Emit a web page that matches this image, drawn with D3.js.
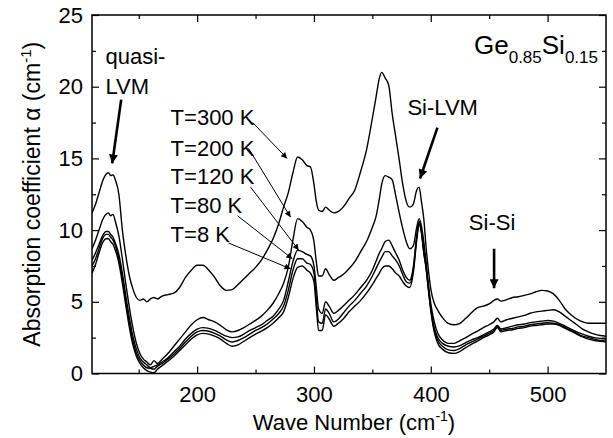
<!DOCTYPE html>
<html>
<head>
<meta charset="utf-8">
<script src="https://cdn.jsdelivr.net/npm/d3@7"></script>
<style>
  body { margin: 0; background: #fff; }
  text { font-family: "Liberation Sans", Arial, Helvetica, sans-serif; fill: #000; }
</style>
</head>
<body>
<svg id="chart" width="613" height="438"></svg>
<script>
// Wave numbers (cm^-1) shared by all spectra
const waveNumbers = [
  110, 113, 116, 119, 122, 124, 126, 128, 130, 133, 136, 139, 142, 145, 148, 151, 154, 157, 160, 163,
  166, 170, 175, 180, 185, 190, 195, 200, 205, 210, 215, 220, 225, 230, 235, 240, 245, 250, 255, 260,
  265, 270, 274, 278, 282, 286, 290, 294, 297, 300, 302, 304, 307, 310, 313, 317, 321, 325, 330, 335,
  340, 345, 350, 353, 356, 358, 361, 364, 367, 370, 373, 376, 379, 382, 385, 388, 390, 392, 394, 396,
  398, 400, 403, 406, 410, 415, 420, 425, 430, 435, 440, 445, 450, 454, 457, 460, 465, 470, 475, 480,
  485, 490, 495, 500, 505, 510, 515, 520, 525, 530, 535, 540, 545, 550
];

// Absorption coefficient (cm^-1) at each temperature
const alphaT300 = [
  11.2, 11.8, 12.6, 13.4, 13.9, 14.0, 13.8, 13.85, 13.5, 12.5, 10.0, 8.2, 6.8, 5.9, 5.3, 5.1, 5.2, 5.0, 5.2, 5.3,
  5.2, 5.4, 5.5, 5.6, 6.0, 6.7, 7.2, 7.55, 7.55, 7.2, 6.7, 6.1, 5.8, 5.85, 6.2, 6.6, 7.0, 7.4, 7.9, 8.6,
  9.4, 10.5, 11.6, 12.6, 14.0, 15.1, 14.9, 14.5, 14.4, 13.2, 12.0, 11.4, 11.3, 11.6, 11.4, 11.2, 11.3, 11.6, 12.2, 12.8,
  14.1, 15.6, 17.8, 19.2, 20.6, 21.0, 20.6, 20.1, 18.1, 16.5, 14.9, 13.2, 12.0, 11.6, 11.8, 12.8, 13.0, 12.0, 10.8, 8.8,
  7.2, 5.9, 4.9, 4.4, 3.9, 3.5, 3.4, 3.5, 3.85, 4.25, 4.6, 4.7, 4.85, 5.1, 5.2, 5.05, 5.15, 5.3, 5.35, 5.45,
  5.55, 5.7, 5.8, 5.75, 5.55, 5.1, 4.5, 4.1, 3.8, 3.6, 3.5, 3.5, 3.5, 3.5
];
const alphaT200 = [
  8.7, 9.3, 10.0, 10.7, 11.1, 11.2, 11.0, 11.1, 10.6, 9.6, 8.0, 6.2, 4.6, 3.2, 2.1, 1.4, 1.0, 0.8, 0.6, 0.9,
  0.7, 1.0, 1.4, 1.9, 2.4, 2.9, 3.4, 3.75, 3.9, 3.75, 3.6, 3.35, 3.05, 2.9, 3.0, 3.2, 3.45, 3.7, 4.0, 4.4,
  4.9, 5.6, 6.3, 7.4, 9.3, 10.8, 10.6, 10.2, 10.0, 9.2, 7.8, 6.8, 6.8, 7.3, 6.9, 6.5, 6.7, 6.9, 7.3, 7.8,
  8.5, 9.2, 10.2, 10.9, 12.2, 13.2, 13.8, 13.7, 13.5, 12.4, 11.2, 10.1, 9.2, 8.7, 8.9, 10.2, 10.8, 10.3, 9.2, 7.8,
  6.2, 4.9, 3.6, 2.8, 2.35, 2.1, 2.1, 2.3, 2.5, 2.75, 2.95, 3.2, 3.4, 3.6, 3.85, 3.6, 3.75, 3.85, 3.95, 4.05,
  4.2, 4.3, 4.35, 4.4, 4.45, 4.3, 4.0, 3.7, 3.4, 3.1, 2.9, 2.75, 2.65, 2.6
];
const alphaT120 = [
  7.9, 8.4, 9.0, 9.6, 9.9, 9.9, 9.7, 9.5, 9.1, 8.3, 7.0, 5.4, 3.9, 2.6, 1.7, 1.1, 0.8, 0.6, 0.4, 0.5,
  0.6, 0.8, 1.1, 1.5, 1.9, 2.4, 2.8, 3.1, 3.2, 3.15, 3.0, 2.8, 2.6, 2.5, 2.55, 2.75, 3.0, 3.2, 3.4, 3.7,
  4.0, 4.5, 5.1, 6.4, 7.8, 8.6, 8.5, 8.3, 8.2, 7.5, 6.0, 4.5, 4.2, 5.0, 4.7, 4.2, 4.4, 4.7, 5.1, 5.5,
  6.0, 6.5, 7.2, 7.8, 8.4, 8.7, 9.2, 9.3, 8.9, 8.4, 7.9, 7.2, 6.7, 6.5, 7.4, 9.6, 10.6, 10.0, 8.6, 7.5,
  6.0, 4.6, 3.2, 2.5, 2.1, 1.9, 1.85, 1.95, 2.15, 2.35, 2.5, 2.7, 2.9, 3.1, 3.35, 3.1, 3.2, 3.3, 3.4, 3.45,
  3.55, 3.6, 3.65, 3.7, 3.65, 3.5, 3.3, 3.1, 2.9, 2.75, 2.6, 2.5, 2.45, 2.4
];
const alphaT80 = [
  7.5, 8.0, 8.7, 9.4, 9.7, 9.7, 9.5, 9.3, 8.9, 8.0, 6.6, 5.0, 3.5, 2.3, 1.4, 0.9, 0.6, 0.4, 0.35, 0.3,
  0.5, 0.7, 1.0, 1.35, 1.75, 2.2, 2.6, 2.9, 3.0, 2.95, 2.8, 2.6, 2.35, 2.2, 2.3, 2.5, 2.75, 3.0, 3.2, 3.45,
  3.8, 4.2, 4.7, 5.8, 7.2, 8.0, 8.0, 7.7, 7.6, 7.0, 5.2, 3.6, 3.5, 4.5, 4.2, 3.6, 3.8, 4.2, 4.7, 5.1,
  5.6, 6.1, 6.8, 7.3, 7.8, 8.1, 8.5, 8.5, 8.2, 7.9, 7.5, 6.9, 6.4, 6.3, 7.2, 9.5, 10.5, 9.9, 8.5, 7.4,
  5.9, 4.5, 3.0, 2.3, 1.9, 1.65, 1.6, 1.75, 2.0, 2.2, 2.4, 2.6, 2.8, 3.0, 3.3, 3.0, 3.1, 3.15, 3.25, 3.3,
  3.4, 3.45, 3.5, 3.55, 3.5, 3.4, 3.2, 3.0, 2.8, 2.6, 2.5, 2.4, 2.3, 2.25
];
const alphaT8 = [
  7.0, 7.6, 8.4, 9.1, 9.4, 9.4, 9.2, 9.0, 8.6, 7.7, 6.3, 4.7, 3.2, 2.0, 1.2, 0.7, 0.4, 0.2, 0.1, 0.05,
  0.3, 0.55, 0.85, 1.2, 1.6, 2.0, 2.4, 2.7, 2.8, 2.75, 2.6, 2.4, 2.1, 1.9, 2.0, 2.25, 2.5, 2.75, 2.95, 3.2,
  3.5, 3.9, 4.3, 5.3, 6.6, 7.4, 7.5, 7.2, 7.0, 6.4, 4.6, 3.0, 3.0, 4.1, 3.8, 3.3, 3.5, 3.8, 4.3, 4.7,
  5.1, 5.6, 6.2, 6.6, 7.0, 7.3, 7.5, 7.5, 7.3, 7.0, 6.8, 6.4, 6.1, 6.0, 7.0, 9.3, 10.4, 9.8, 8.4, 7.3,
  5.8, 4.4, 2.9, 2.1, 1.7, 1.45, 1.4, 1.55, 1.8, 2.05, 2.25, 2.5, 2.7, 2.9, 3.2, 2.9, 3.0, 3.05, 3.15, 3.2,
  3.3, 3.35, 3.4, 3.45, 3.45, 3.35, 3.15, 2.95, 2.75, 2.55, 2.4, 2.3, 2.25, 2.2
];

const seriesLabels = ["T=300 K", "T=200 K", "T=120 K", "T=80 K", "T=8 K"];
const seriesValues = [alphaT300, alphaT200, alphaT120, alphaT80, alphaT8];

const xTicks = [200, 300, 400, 500];
const xMinorTicks = [150, 250, 350, 450];
const yTicks = [0, 5, 10, 15, 20, 25];
const yMinorTicks = [2.5, 7.5, 12.5, 17.5, 22.5];

// Temperature label anchors and arrows, in data units (wave number, alpha)
const labelAnchors = [[177.3, 17.3], [177.3, 15.2], [177.3, 13.2], [177.3, 11.2], [177.3, 9.2]];
const labelArrowFrom = [[247.5, 17.5], [244, 15.7], [245.7, 13.0], [234.6, 11.0], [226.9, 9.1]];
const labelArrowTo = [[277, 15.0], [280, 10.9], [287, 8.6], [281.5, 8.0], [280, 7.3]];

const svg = d3.select("#chart");
const plot = { left: 92, right: 606, top: 15, bottom: 373.5 };

const x = d3.scaleLinear().domain([110, 550]).range([plot.left, plot.right]);
const y = d3.scaleLinear().domain([0, 25]).range([plot.bottom, plot.top]);

// Arrowhead markers
const defs = svg.append("defs");
defs.append("marker")
  .attr("id", "thinHead").attr("markerUnits", "userSpaceOnUse")
  .attr("viewBox", "0 0 10 10").attr("refX", 10).attr("refY", 5)
  .attr("markerWidth", 8).attr("markerHeight", 6).attr("orient", "auto")
  .append("path").attr("d", "M0,0 L10,5 L0,10 Z").attr("fill", "#000");
defs.append("marker")
  .attr("id", "boldHead").attr("markerUnits", "userSpaceOnUse")
  .attr("viewBox", "0 0 10 10").attr("refX", 10).attr("refY", 5)
  .attr("markerWidth", 13).attr("markerHeight", 9).attr("orient", "auto")
  .append("path").attr("d", "M0,0 L10,5 L0,10 Z").attr("fill", "#000");

// Spectra
const clipId = "plotClip";
defs.append("clipPath").attr("id", clipId).append("rect")
  .attr("x", plot.left).attr("y", plot.top)
  .attr("width", plot.right - plot.left).attr("height", plot.bottom - plot.top);

const line = d3.line().x((d, i) => x(waveNumbers[i])).y(d => y(d)).curve(d3.curveMonotoneX);
svg.append("g").attr("clip-path", `url(#${clipId})`)
  .selectAll("path").data(seriesValues).join("path")
  .attr("d", d => line(d))
  .attr("fill", "none").attr("stroke", "#000").attr("stroke-width", 1.4)
  .attr("stroke-linejoin", "round");

// Frame
svg.append("rect")
  .attr("x", plot.left).attr("y", plot.top)
  .attr("width", plot.right - plot.left).attr("height", plot.bottom - plot.top)
  .attr("fill", "none").attr("stroke", "#000").attr("stroke-width", 1.5);

// Axes with inward ticks on all four sides
const tickFont = 22;
function styleAxis(g) {
  g.select(".domain").remove();
  g.selectAll(".tick line").attr("stroke", "#000").attr("stroke-width", 1.2);
  g.selectAll(".tick text").attr("font-size", tickFont)
    .attr("font-family", "'Liberation Sans', Arial, sans-serif");
}
svg.append("g").attr("transform", `translate(0,${plot.bottom})`)
  .call(d3.axisBottom(x).tickValues(xTicks).tickSizeInner(-7).tickSizeOuter(0).tickPadding(13).tickFormat(d3.format("d")))
  .call(styleAxis);
svg.append("g").attr("transform", `translate(0,${plot.bottom})`)
  .call(d3.axisBottom(x).tickValues(xMinorTicks).tickSizeInner(-4).tickSizeOuter(0).tickFormat(""))
  .call(styleAxis);
svg.append("g").attr("transform", `translate(0,${plot.top})`)
  .call(d3.axisTop(x).tickValues(xTicks).tickSizeInner(-7).tickSizeOuter(0).tickFormat(""))
  .call(styleAxis);
svg.append("g").attr("transform", `translate(0,${plot.top})`)
  .call(d3.axisTop(x).tickValues(xMinorTicks).tickSizeInner(-4).tickSizeOuter(0).tickFormat(""))
  .call(styleAxis);
svg.append("g").attr("transform", `translate(${plot.left},0)`)
  .call(d3.axisLeft(y).tickValues(yTicks).tickSizeInner(-7).tickSizeOuter(0).tickPadding(9).tickFormat(d3.format("d")))
  .call(styleAxis);
svg.append("g").attr("transform", `translate(${plot.left},0)`)
  .call(d3.axisLeft(y).tickValues(yMinorTicks).tickSizeInner(-4).tickSizeOuter(0).tickFormat(""))
  .call(styleAxis);
svg.append("g").attr("transform", `translate(${plot.right},0)`)
  .call(d3.axisRight(y).tickValues(yTicks).tickSizeInner(-7).tickSizeOuter(0).tickFormat(""))
  .call(styleAxis);
svg.append("g").attr("transform", `translate(${plot.right},0)`)
  .call(d3.axisRight(y).tickValues(yMinorTicks).tickSizeInner(-4).tickSizeOuter(0).tickFormat(""))
  .call(styleAxis);

// Axis titles
const xTitle = svg.append("text")
  .attr("x", 354).attr("y", 430).attr("text-anchor", "middle").attr("font-size", 22);
xTitle.append("tspan").text("Wave Number (cm");
xTitle.append("tspan").attr("font-size", 14).attr("dy", -9).text("-1");
xTitle.append("tspan").attr("dy", 9).text(")");

const yTitle = svg.append("text")
  .attr("transform", `translate(40,${(plot.top + plot.bottom) / 2}) rotate(-90)`)
  .attr("text-anchor", "middle").attr("font-size", 23);
yTitle.append("tspan").text("Absorption coefficient α (cm");
yTitle.append("tspan").attr("font-size", 15).attr("dy", -9).text("-1");
yTitle.append("tspan").attr("dy", 9).text(")");

// Sample composition
const title = svg.append("text")
  .attr("x", 598).attr("y", y(22.3)).attr("text-anchor", "end").attr("font-size", 26);
title.append("tspan").text("Ge");
title.append("tspan").attr("font-size", 17).attr("dy", 9).text("0.85");
title.append("tspan").attr("dy", -9).text("Si");
title.append("tspan").attr("font-size", 17).attr("dy", 9).text("0.15");

// Temperature labels with arrows
const annFont = 22;
seriesLabels.forEach((lab, i) => {
  svg.append("text")
    .attr("x", x(labelAnchors[i][0])).attr("y", y(labelAnchors[i][1]))
    .attr("font-size", annFont).text(lab);
  svg.append("line")
    .attr("x1", x(labelArrowFrom[i][0])).attr("y1", y(labelArrowFrom[i][1]))
    .attr("x2", x(labelArrowTo[i][0])).attr("y2", y(labelArrowTo[i][1]))
    .attr("stroke", "#000").attr("stroke-width", 1)
    .attr("marker-end", "url(#thinHead)");
});

// Mode annotations
const modeNotes = [
  { lines: ["quasi-", "LVM"], at: [121.5, 21.6], from: [135, 19.1], to: [127.3, 14.65] },
  { lines: ["Si-LVM"], at: [380, 18.0], from: [405.7, 17.15], to: [390.8, 13.6] },
  { lines: ["Si-Si"], at: [432.6, 10.0], from: [454.2, 8.7], to: [454.2, 5.95] }
];
modeNotes.forEach(n => {
  n.lines.forEach((t, k) => {
    svg.append("text")
      .attr("x", x(n.at[0])).attr("y", y(n.at[1]) + k * 30)
      .attr("font-size", annFont).text(t);
  });
  svg.append("line")
    .attr("x1", x(n.from[0])).attr("y1", y(n.from[1]))
    .attr("x2", x(n.to[0])).attr("y2", y(n.to[1]))
    .attr("stroke", "#000").attr("stroke-width", 2.6)
    .attr("marker-end", "url(#boldHead)");
});
</script>
</body>
</html>
